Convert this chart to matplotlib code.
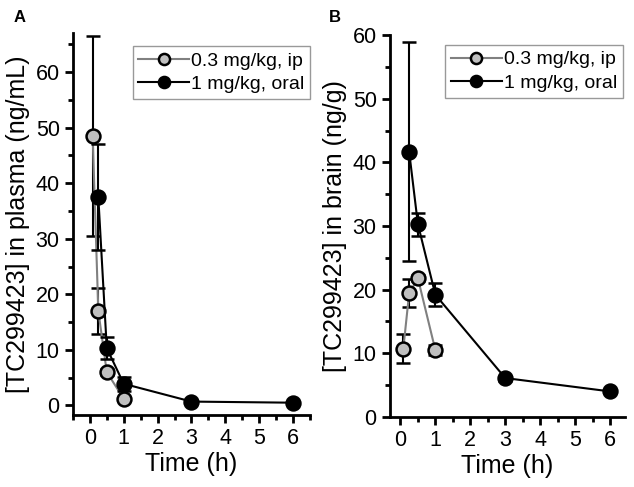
import matplotlib
matplotlib.use("Agg")
import matplotlib.pyplot as plt
from matplotlib.lines import Line2D
from matplotlib.ticker import MultipleLocator

plt.rcParams['font.family'] = ['Liberation Sans', 'DejaVu Sans']

# plasma (panel A)
t_ip = [0.083, 0.25, 0.5, 1.0]
t_oral = [0.25, 0.5, 1.0, 3.0, 6.0]
plasma_ip = [48.5, 17.0, 6.0, 1.2]
plasma_ip_err = [18.0, 4.2, 0.6, 0.4]
plasma_oral = [37.5, 10.3, 3.9, 0.7, 0.5]
plasma_oral_err = [9.6, 2.0, 1.3, 0.2, 0.1]

# brain (panel B)
brain_ip = [10.7, 19.4, 21.8, 10.5]
brain_ip_err = [2.3, 2.2, 0.5, 0.8]
brain_oral = [41.7, 30.3, 19.2, 6.1, 4.0]
brain_oral_err = [17.2, 1.8, 1.8, 0.4, 0.2]

labels = ['0.3 mg/kg, ip', '1 mg/kg, oral']

fig = plt.figure(figsize=(6.34, 4.87), dpi=100)
axA = fig.add_axes([0.115, 0.148, 0.374, 0.784])
axB = fig.add_axes([0.615, 0.144, 0.371, 0.784])


def draw(ax, ip, ip_err, oral, oral_err, ylabel, leg_anchor):
    ax.errorbar(t_ip, ip, yerr=ip_err, color='#808080', ecolor='black',
                elinewidth=1.5, capsize=5, capthick=1.5, lw=1.5,
                marker='o', ms=10, mfc='#c0c0c0', mec='black', mew=1.8,
                zorder=3)
    ax.errorbar(t_oral, oral, yerr=oral_err, color='black', ecolor='black',
                elinewidth=1.5, capsize=5, capthick=1.5, lw=1.5,
                marker='o', ms=10, mfc='black', mec='black', mew=1.8,
                zorder=4)
    for s in ['top', 'right']:
        ax.spines[s].set_visible(False)
    for s in ['left', 'bottom']:
        ax.spines[s].set_linewidth(2)
    ax.xaxis.set_major_locator(MultipleLocator(1))
    ax.xaxis.set_minor_locator(MultipleLocator(0.5))
    ax.yaxis.set_major_locator(MultipleLocator(10))
    ax.yaxis.set_minor_locator(MultipleLocator(5))
    ax.tick_params(which='major', direction='out', length=6, width=2, labelsize=15.5)
    ax.tick_params(which='minor', direction='out', length=3.5, width=2)
    ax.set_xlabel('Time (h)', fontsize=18, labelpad=2)
    ax.set_ylabel(ylabel, fontsize=18, labelpad=4)
    handles = [
        Line2D([], [], color='#808080', lw=1.5, marker='o', ms=8,
               mfc='#c0c0c0', mec='black', mew=1.8),
        Line2D([], [], color='black', lw=1.5, marker='o', ms=8,
               mfc='black', mec='black', mew=1.8),
    ]
    leg = ax.legend(handles, labels, loc='upper right', bbox_to_anchor=leg_anchor,
                    fontsize=14, frameon=True, fancybox=False,
                    handlelength=2.6, handletextpad=0.1, borderpad=0.3,
                    labelspacing=0.3, borderaxespad=0)
    leg.get_frame().set_edgecolor('#808080')
    leg.get_frame().set_linewidth(1)


draw(axA, plasma_ip, plasma_ip_err, plasma_oral, plasma_oral_err,
     '[TC299423] in plasma (ng/mL)', (1.0, 0.966))
axA.set_xlim(-0.5, 6.5)
axA.set_ylim(-1.7, 67)

draw(axB, brain_ip, brain_ip_err, brain_oral, brain_oral_err,
     '[TC299423] in brain (ng/g)', (0.99, 0.974))
axB.set_xlim(-0.3, 6.43)
axB.set_ylim(0, 60)

fig.text(0.022, 0.955, 'A', fontsize=12, fontweight='bold')
fig.text(0.518, 0.955, 'B', fontsize=12, fontweight='bold')

fig.savefig('out.png', dpi=100)
